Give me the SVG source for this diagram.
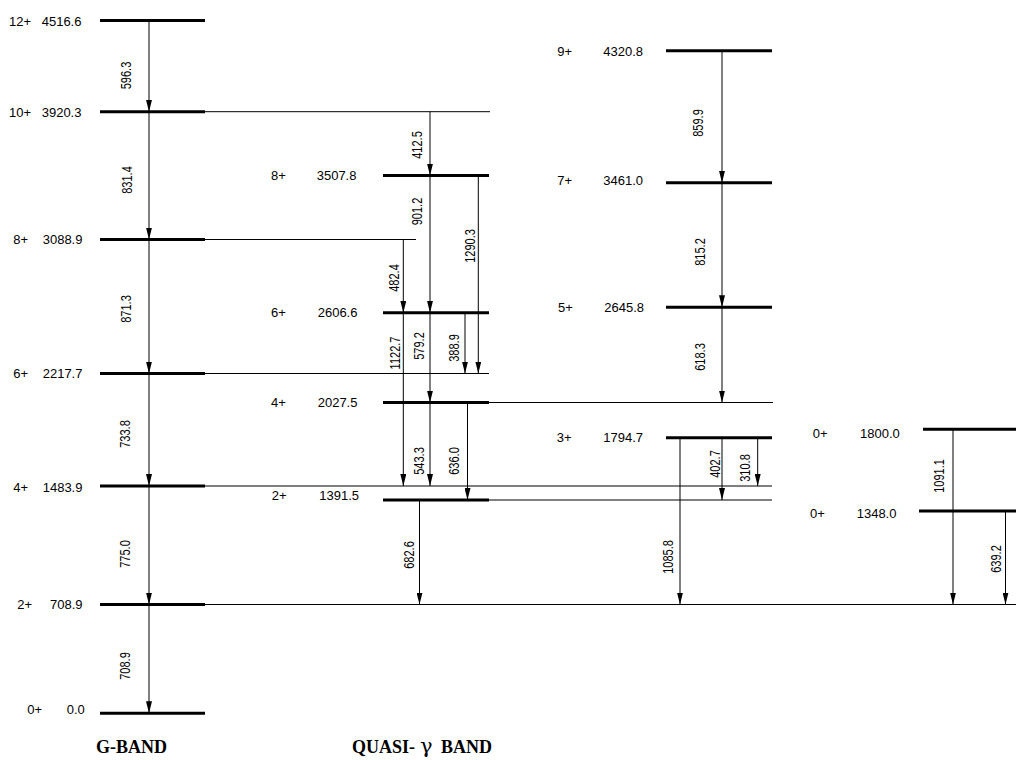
<svg xmlns="http://www.w3.org/2000/svg" width="1016" height="760" viewBox="0 0 1016 760">
<style>
.lv{stroke:#000;stroke-width:3;fill:none}
.ex{stroke:#000;stroke-width:1;fill:none}
.ar{stroke:#000;stroke-width:1;fill:none;marker-end:url(#ah)}
.t{font-family:"Liberation Sans",Arial,sans-serif;font-size:13px;fill:#000}
.r{font-family:"Liberation Sans",Arial,sans-serif;font-size:11px;fill:#000;text-anchor:middle}
.b{font-family:"Liberation Serif","Times New Roman",serif;font-size:18px;font-weight:bold;fill:#000}
</style>
<defs>
<marker id="ah" viewBox="0 0 12 6" refX="12" refY="3" markerWidth="12" markerHeight="6" orient="auto" markerUnits="userSpaceOnUse"><path d="M0,0 L12,3 L0,6 z" fill="#000"/></marker>
</defs>
<rect width="1016" height="760" fill="#fff"/>
<g id="g12"><line class="lv" x1="100" y1="20.5" x2="205" y2="20.5"/><text class="t" x="9" y="25.5">12+</text><text class="t" x="41.7" y="25.5">4516.6</text></g>
<g id="g10"><line class="ex" x1="205" y1="111.7" x2="490" y2="111.7"/><line class="lv" x1="100" y1="111.7" x2="205" y2="111.7"/><text class="t" x="9" y="116.5">10+</text><text class="t" x="41.7" y="116.5">3920.3</text></g>
<g id="g8"><line class="ex" x1="205" y1="239.5" x2="416" y2="239.5"/><line class="lv" x1="100" y1="239.5" x2="205" y2="239.5"/><text class="t" x="13.3" y="244">8+</text><text class="t" x="42.7" y="244">3088.9</text></g>
<g id="g6"><line class="ex" x1="205" y1="373.5" x2="489" y2="373.5"/><line class="lv" x1="100" y1="373.5" x2="205" y2="373.5"/><text class="t" x="13.3" y="377.5">6+</text><text class="t" x="42.7" y="377.5">2217.7</text></g>
<g id="g4"><line class="ex" x1="205" y1="486" x2="772" y2="486"/><line class="lv" x1="100" y1="486" x2="205" y2="486"/><text class="t" x="13.3" y="491.5">4+</text><text class="t" x="42.7" y="491.5">1483.9</text></g>
<g id="g2"><line class="ex" x1="205" y1="604.5" x2="1016" y2="604.5"/><line class="lv" x1="100" y1="604.5" x2="205" y2="604.5"/><text class="t" x="17.3" y="608.5">2+</text><text class="t" x="50" y="608.5">708.9</text></g>
<g id="g0"><line class="lv" x1="100" y1="713.3" x2="205" y2="713.3"/><text class="t" x="27.3" y="714">0+</text><text class="t" x="66.7" y="714">0.0</text></g>
<g id="q8"><line class="lv" x1="383" y1="175.5" x2="489" y2="175.5"/><text class="t" x="271" y="180">8+</text><text class="t" x="316.7" y="180">3507.8</text></g>
<g id="q6"><line class="lv" x1="383" y1="312.7" x2="489" y2="312.7"/><text class="t" x="271" y="317">6+</text><text class="t" x="317.7" y="317">2606.6</text></g>
<g id="q4"><line class="ex" x1="489" y1="402.5" x2="773" y2="402.5"/><line class="lv" x1="383" y1="402.5" x2="489" y2="402.5"/><text class="t" x="271" y="407">4+</text><text class="t" x="317.7" y="407">2027.5</text></g>
<g id="q2"><line class="ex" x1="489" y1="500" x2="772" y2="500"/><line class="lv" x1="383" y1="500" x2="489" y2="500"/><text class="t" x="271.7" y="500">2+</text><text class="t" x="319.3" y="500">1391.5</text></g>
<g id="o9"><line class="lv" x1="666" y1="50.7" x2="772" y2="50.7"/><text class="t" x="557.3" y="56">9+</text><text class="t" x="603.3" y="56">4320.8</text></g>
<g id="o7"><line class="lv" x1="666" y1="182.7" x2="772" y2="182.7"/><text class="t" x="557.3" y="185">7+</text><text class="t" x="603.3" y="185">3461.0</text></g>
<g id="o5"><line class="lv" x1="666" y1="307.3" x2="772" y2="307.3"/><text class="t" x="558" y="312">5+</text><text class="t" x="604.3" y="312">2645.8</text></g>
<g id="o3"><line class="lv" x1="666" y1="437.7" x2="772" y2="437.7"/><text class="t" x="556.7" y="441.7">3+</text><text class="t" x="603.3" y="441.7">1794.7</text></g>
<g id="z1800"><line class="lv" x1="923" y1="429.3" x2="1016" y2="429.3"/><text class="t" x="812.7" y="438">0+</text><text class="t" x="860" y="438">1800.0</text></g>
<g id="z1348"><line class="lv" x1="919" y1="511" x2="1016" y2="511"/><text class="t" x="810" y="517.5">0+</text><text class="t" x="856.7" y="517.5">1348.0</text></g>
<g id="connectors">
<line class="ar" x1="149" y1="20.5" x2="149" y2="111.7"/>
<line class="ar" x1="149" y1="111.7" x2="149" y2="239.5"/>
<line class="ar" x1="149" y1="239.5" x2="149" y2="373.5"/>
<line class="ar" x1="149" y1="373.5" x2="149" y2="486"/>
<line class="ar" x1="149" y1="486" x2="149" y2="604.5"/>
<line class="ar" x1="149" y1="604.5" x2="149" y2="713.3"/>
<line class="ar" x1="430" y1="111.7" x2="430" y2="175.5"/>
<line class="ar" x1="430" y1="175.5" x2="430" y2="312.7"/>
<line class="ar" x1="478.3" y1="175.5" x2="478.3" y2="373.5"/>
<line class="ar" x1="403.3" y1="239.5" x2="403.3" y2="312.7"/>
<line class="ar" x1="403.3" y1="312.7" x2="403.3" y2="486"/>
<line class="ar" x1="430" y1="312.7" x2="430" y2="402.5"/>
<line class="ar" x1="465" y1="312.7" x2="465" y2="373.5"/>
<line class="ar" x1="430" y1="402.5" x2="430" y2="486"/>
<line class="ar" x1="467.5" y1="402.5" x2="467.5" y2="500"/>
<line class="ar" x1="419.5" y1="500" x2="419.5" y2="604.5"/>
<line class="ar" x1="722" y1="50.7" x2="722" y2="182.7"/>
<line class="ar" x1="722" y1="182.7" x2="722" y2="307.3"/>
<line class="ar" x1="722" y1="307.3" x2="722" y2="402.5"/>
<line class="ar" x1="680" y1="437.7" x2="680" y2="604.5"/>
<line class="ar" x1="722" y1="437.7" x2="722" y2="500"/>
<line class="ar" x1="757.7" y1="437.7" x2="757.7" y2="486"/>
<line class="ar" x1="953" y1="429.3" x2="953" y2="604.5"/>
<line class="ar" x1="1005.5" y1="511" x2="1005.5" y2="604.5"/>
<text class="r" transform="translate(131,75.5) rotate(-90) scale(1,1.4)">596.3</text>
<text class="r" transform="translate(132,180) rotate(-90) scale(1,1.4)">831.4</text>
<text class="r" transform="translate(131,309) rotate(-90) scale(1,1.4)">871.3</text>
<text class="r" transform="translate(130,434) rotate(-90) scale(1,1.4)">733.8</text>
<text class="r" transform="translate(130,554) rotate(-90) scale(1,1.4)">775.0</text>
<text class="r" transform="translate(130,666) rotate(-90) scale(1,1.4)">708.9</text>
<text class="r" transform="translate(422,145) rotate(-90) scale(1,1.4)">412.5</text>
<text class="r" transform="translate(422,211.5) rotate(-90) scale(1,1.4)">901.2</text>
<text class="r" transform="translate(475,246) rotate(-90) scale(1,1.4)">1290.3</text>
<text class="r" transform="translate(399,278) rotate(-90) scale(1,1.4)">482.4</text>
<text class="r" transform="translate(400,353) rotate(-90) scale(1,1.4)">1122.7</text>
<text class="r" transform="translate(424,346) rotate(-90) scale(1,1.4)">579.2</text>
<text class="r" transform="translate(459,348) rotate(-90) scale(1,1.4)">388.9</text>
<text class="r" transform="translate(424,461) rotate(-90) scale(1,1.4)">543.3</text>
<text class="r" transform="translate(459,461) rotate(-90) scale(1,1.4)">636.0</text>
<text class="r" transform="translate(414,555) rotate(-90) scale(1,1.4)">682.6</text>
<text class="r" transform="translate(703,123) rotate(-90) scale(1,1.4)">859.9</text>
<text class="r" transform="translate(705,252) rotate(-90) scale(1,1.4)">815.2</text>
<text class="r" transform="translate(705,357) rotate(-90) scale(1,1.4)">618.3</text>
<text class="r" transform="translate(673,557) rotate(-90) scale(1,1.4)">1085.8</text>
<text class="r" transform="translate(720,464) rotate(-90) scale(1,1.4)">402.7</text>
<text class="r" transform="translate(750,468) rotate(-90) scale(1,1.4)">310.8</text>
<text class="r" transform="translate(944,476) rotate(-90) scale(1,1.4)">1091.1</text>
<text class="r" transform="translate(1001,559) rotate(-90) scale(1,1.4)">639.2</text>
</g>
<g id="titles">
<text class="b" x="96" y="753" font-size="17">G-BAND</text>
<text class="b" y="753"><tspan x="352">QUASI-</tspan><tspan x="420" font-family="'DejaVu Serif',serif" font-weight="normal" font-size="21">γ</tspan><tspan x="441">BAND</tspan></text>
</g>
</svg>
